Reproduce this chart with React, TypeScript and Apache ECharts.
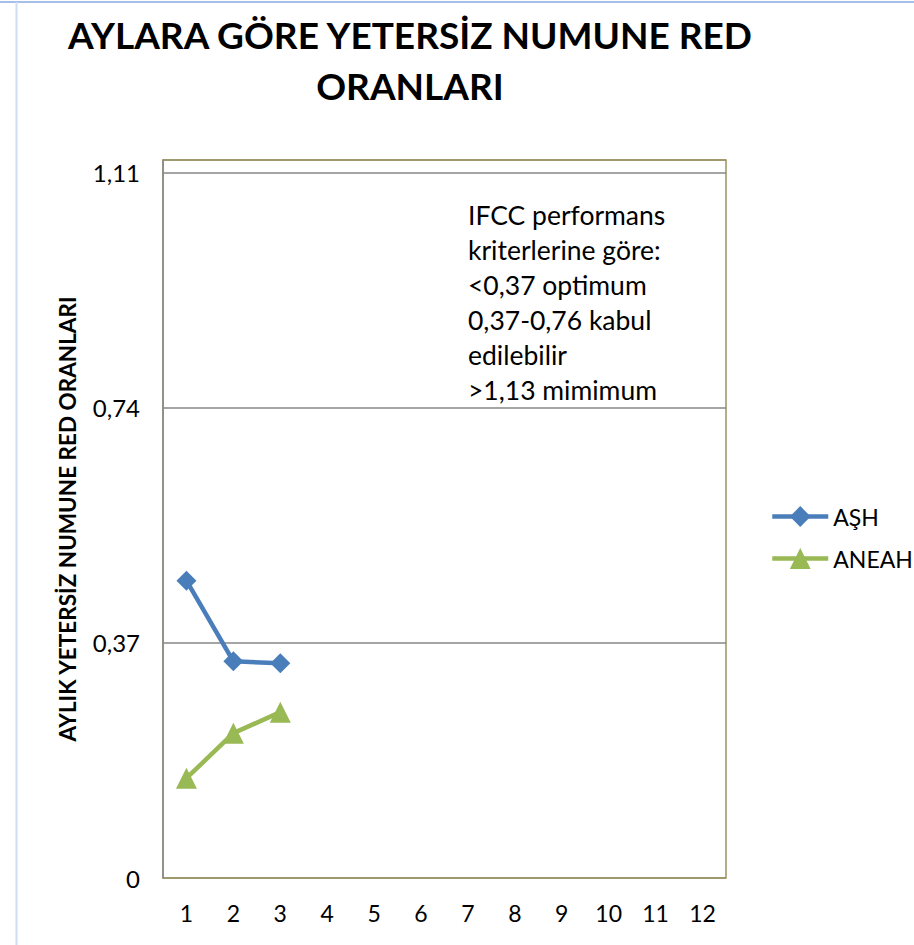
import React, { useEffect, useRef } from "react";
import * as echarts from "echarts";

const months = ["1", "2", "3", "4", "5", "6", "7", "8", "9", "10", "11", "12"];
const ashValues: (number | null)[] = [0.468, 0.341, 0.338];
const aneahValues: (number | null)[] = [0.157, 0.228, 0.261];
const yTickLabels = [0, 0.37, 0.74, 1.11];
const yMax = 1.13;
const titleText = "AYLARA GÖRE YETERSİZ NUMUNE RED\nORANLARI";
const yAxisTitle = "AYLIK YETERSİZ NUMUNE RED ORANLARI";
const noteLines = [
  "IFCC performans",
  "kriterlerine göre:",
  "<0,37 optimum",
  "0,37-0,76 kabul",
  "edilebilir",
  ">1,13 mimimum",
];

const FONT = "Lato, 'Open Sans', 'Noto Sans', sans-serif";

export default function App() {
  const ref = useRef<HTMLDivElement>(null);
  useEffect(() => {
    if (!ref.current) return;
    const chart = echarts.init(ref.current, null, { renderer: "svg" });
    chart.setOption({
      animation: false,
      backgroundColor: "#ffffff",
      title: {
        text: titleText,
        left: 405,
        top: 4,
        textAlign: "center",
        textStyle: {
          fontFamily: FONT,
          fontWeight: "bold",
          fontSize: 37,
          lineHeight: 51,
          color: "#000",
        },
      },
      legend: {
        orient: "vertical",
        left: 765,
        top: 500,
        itemWidth: 56,
        itemHeight: 26,
        itemGap: 19,
        textStyle: { fontFamily: FONT, fontSize: 23, color: "#000" },
        data: [
          { name: "AŞH", lineStyle: { width: 4.5, color: "#4a7ebb" } },
          { name: "ANEAH", lineStyle: { width: 4.5, color: "#98b954" } },
        ],
      },
      grid: {
        left: 163,
        right: 188,
        top: 160,
        bottom: 67,
        show: true,
        borderColor: "#9b9364",
        borderWidth: 1.5,
        backgroundColor: "transparent",
      },
      xAxis: {
        type: "category",
        data: months,
        boundaryGap: true,
        axisLine: { show: false },
        axisTick: { show: false },
        axisLabel: { fontFamily: FONT, fontSize: 23, color: "#000", margin: 23 },
      },
      yAxis: {
        type: "value",
        min: 0,
        max: yMax,
        interval: 0.37,
        name: yAxisTitle,
        nameLocation: "middle",
        nameGap: 84,
        nameTextStyle: { fontFamily: FONT, fontWeight: "bold", fontSize: 22.5, color: "#000" },
        axisLine: { show: true, lineStyle: { color: "#878787", width: 1.5 } },
        axisTick: { show: false },
        axisLabel: {
          fontFamily: FONT,
          fontSize: 24,
          color: "#000",
          margin: 23,
          formatter: (v: number) => {
            const hit = yTickLabels.find((t) => Math.abs(t - v) < 1e-6);
            if (hit === undefined) return "";
            return hit === 0 ? "0" : hit.toFixed(2).replace(".", ",");
          },
        },
        splitLine: {
          show: true,
          lineStyle: { color: ["#9b9364", "#878787", "#878787", "#878787", "#9b9364"], width: 1.5 },
        },
      },
      graphic: [
        {
          type: "line",
          shape: { x1: 0, y1: 2, x2: 914, y2: 2 },
          style: { stroke: "#a7bfe8", lineWidth: 2 },
          z: 100,
        },
        {
          type: "line",
          shape: { x1: 16.5, y1: 2, x2: 16.5, y2: 945 },
          style: { stroke: "#cfdcf2", lineWidth: 2 },
          z: 100,
        },
        {
          type: "text",
          left: 468,
          top: 197,
          style: {
            text: noteLines.join("\n"),
            font: `26.5px ${FONT}`,
            lineHeight: 35,
            fill: "#000",
          },
          z: 100,
        },
      ],
      series: [
        {
          name: "AŞH",
          type: "line",
          data: ashValues,
          symbol: "diamond",
          symbolSize: 20,
          lineStyle: { color: "#4a7ebb", width: 4.5 },
          itemStyle: { color: "#4a7ebb" },
          connectNulls: false,
        },
        {
          name: "ANEAH",
          type: "line",
          data: aneahValues,
          symbol: "triangle",
          symbolSize: 21,
          lineStyle: { color: "#98b954", width: 4.5 },
          itemStyle: { color: "#98b954" },
          connectNulls: false,
        },
      ],
    });
    return () => chart.dispose();
  }, []);
  return (
    <div
      ref={ref}
      style={{ position: "fixed", left: 0, top: 0, width: 914, height: 945, background: "#fff" }}
    />
  );
}
